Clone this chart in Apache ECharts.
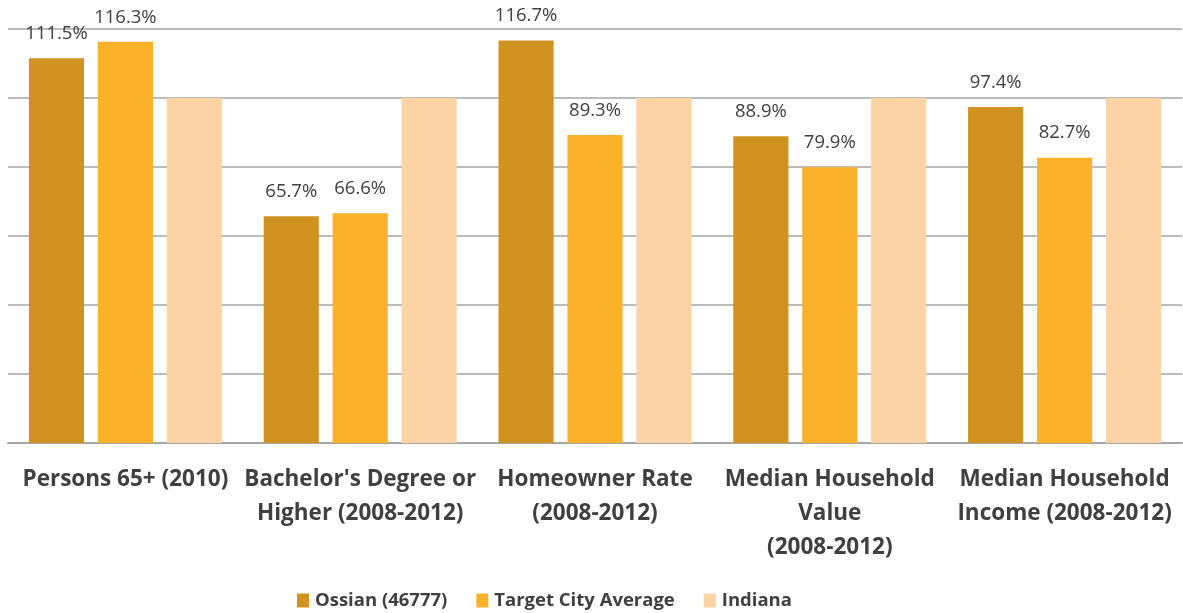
<!DOCTYPE html>
<html>
<head>
<meta charset="utf-8">
<script src="https://cdn.jsdelivr.net/npm/echarts@6/dist/echarts.min.js"></script>
<style>html,body{margin:0;padding:0;background:#fff;}#c{width:1183px;height:613px;}</style>
</head>
<body>
<div id="c"></div>
<script>
const categories = [
  "Persons 65+ (2010)",
  "Bachelor's Degree or\nHigher (2008-2012)",
  "Homeowner Rate\n(2008-2012)",
  "Median Household\nValue\n(2008-2012)",
  "Median Household\nIncome (2008-2012)"
];
const seriesNames = ["Ossian (46777)", "Target City Average", "Indiana"];
const ossian = [111.5, 65.7, 116.7, 88.9, 97.4];
const target = [116.3, 66.6, 89.3, 79.9, 82.7];
const indiana = [100, 100, 100, 100, 100];
const colors = ["#D09220", "#FBB12A", "#FBD3A4"];

const chart = echarts.init(document.getElementById('c'), null, {renderer: 'canvas'});
const labelCfg = (show) => ({
  show: show,
  position: 'top',
  distance: 15,
  fontFamily: 'Open Sans',
  fontSize: 18.5,
  color: '#404040',
  formatter: p => p.value.toFixed(1) + '%'
});
chart.setOption({
  animation: false,
  backgroundColor: '#ffffff',
  grid: {left: 8, right: 1, top: 29, bottom: 170, containLabel: false},
  legend: {
    top: 586,
    left: 292,
    itemWidth: 12,
    itemHeight: 14,
    itemGap: 29,
    icon: 'rect',
    textStyle: {fontFamily: 'Open Sans', fontWeight: 'bold', fontSize: 18.5, color: '#404040', padding: [0,0,0,1]},
    data: seriesNames
  },
  xAxis: {
    type: 'category',
    data: categories,
    axisLine: {lineStyle: {color: '#a6a6a6', width: 2}},
    axisTick: {show: false},
    axisLabel: {
      interval: 0,
      margin: 20,
      fontFamily: 'Open Sans',
      fontWeight: 'bold',
      fontSize: 22.5,
      lineHeight: 34,
      color: '#404040',
      align: 'center'
    }
  },
  yAxis: {
    type: 'value',
    min: 0,
    max: 120,
    interval: 20,
    axisLabel: {show: false},
    axisLine: {show: false},
    axisTick: {show: false},
    splitLine: {lineStyle: {color: '#a6a6a6', width: 1.5}}
  },
  series: [
    {name: seriesNames[0], type: 'bar', data: ossian, itemStyle: {color: colors[0]}, barGap: '25%', barCategoryGap: '17.8%', label: labelCfg(true)},
    {name: seriesNames[1], type: 'bar', data: target, itemStyle: {color: colors[1]}, barGap: '25%', barCategoryGap: '17.8%', label: labelCfg(true)},
    {name: seriesNames[2], type: 'bar', data: indiana, itemStyle: {color: colors[2]}, barGap: '25%', barCategoryGap: '17.8%', label: labelCfg(false)}
  ]
});
</script>
</body>
</html>
